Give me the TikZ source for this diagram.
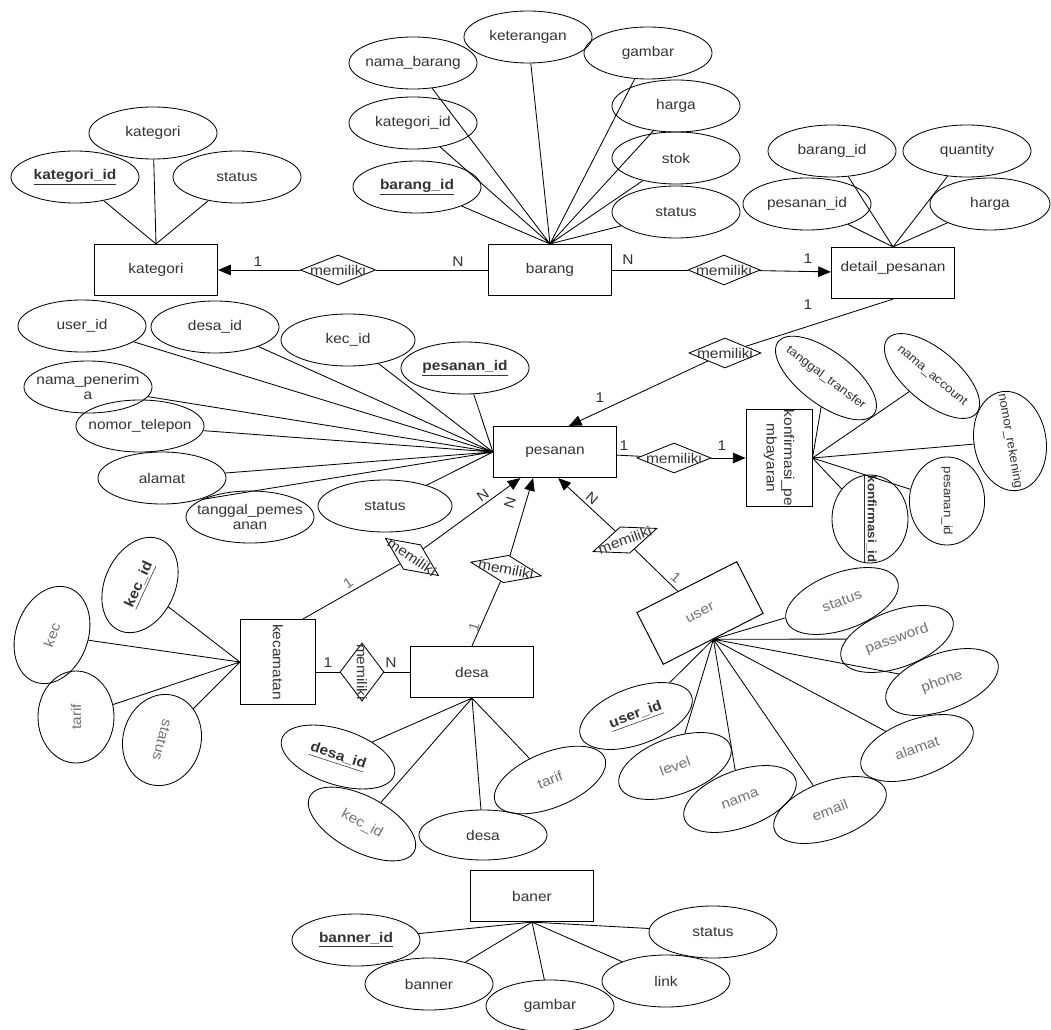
\documentclass[tikz,border=0pt]{standalone}
\usepackage{fontspec}
\setmainfont{Liberation Sans}[FakeStretch=1.1]
\usepackage{graphicx}
\usetikzlibrary{arrows.meta,shapes.geometric}

\newcommand{\pkey}[1]{\underline{\textbf{#1}}}

\begin{document}
\begin{tikzpicture}[
    x=0.025cm, y=-0.025cm,
    font=\fontsize{10}{11}\selectfont,
    zbox/.style={execute at begin node={\hbox to 0pt\bgroup\hss}, execute at end node={\hss\egroup}},
    ent/.style={draw, rectangle, line width=0.7pt, minimum width=3.08cm, minimum height=1.28cm,
                inner sep=0pt, text=black!80},
    att/.style={draw, ellipse, line width=0.6pt, minimum width=3.2cm, minimum height=1.3cm,
                inner sep=0pt, zbox, text=black!80},
    rel/.style={draw, diamond, line width=0.6pt, minimum width=1.8cm, minimum height=0.75cm,
                inner sep=0pt, zbox, text=black!80},
    soft/.style={text=black!55},
    small/.style={font=\fontsize{8.6}{10}\selectfont},
    card/.style={inner sep=1pt, text=black!80},
    ln/.style={line width=0.6pt},
    arr/.style={-{Triangle[length=9pt,width=7.5pt]}},
  ]
  \useasboundingbox[fill=white] (0,0) rectangle (1051,1030);

  % --- kategori ---
  \node[ent] (kategori)  at (156,270) {kategori};
  \node[att] (katnama)   at (153,133) {kategori};
  \node[att] (katid)     at (75,177)  {\pkey{kategori\_id}};
  \node[att] (katstatus) at (237,177) {status};

  % --- barang ---
  \node[ent] (barang)    at (550,270) {barang};
  \node[att] (brgnama)   at (413,63)  {nama\_barang};
  \node[att] (brgket)    at (528,37)  {keterangan};
  \node[att] (brggbr)    at (648,53)  {gambar};
  \node[att] (brgkat)    at (413,123) {kategori\_id};
  \node[att] (brgharga)  at (676,106) {harga};
  \node[att] (brgstok)   at (676,158) {stok};
  \node[att] (brgid)     at (417,187) {\pkey{barang\_id}};
  \node[att] (brgstatus) at (676,212) {status};

  % --- detail_pesanan ---
  \node[ent] (detail)    at (893,273) {\raisebox{9pt}{detail\_pesanan}};
  \node[att] (dtlbrg)    at (832,151) {barang\_id};
  \node[att] (dtlqty)    at (967,151) {quantity};
  \node[att] (dtlpes)    at (807,204) {pesanan\_id};
  \node[att, minimum width=3.0cm] (dtlharga) at (990,204) {harga};

  % --- pesanan ---
  \node[ent] (pesanan)   at (555,452) {pesanan};
  \node[att] (pesuser)   at (82,326)  {user\_id};
  \node[att] (pesdesa)   at (215,327) {desa\_id};
  \node[att, minimum width=3.35cm] (peskec) at (348,340) {kec\_id};
  \node[att] (pesid)     at (465,368) {\pkey{pesanan\_id}};
  \node[att] (pesnama)   at (88,387)  {\shortstack{nama\_penerim\\a}};
  \node[att] (pestelp)   at (140,426) {nomor\_telepon};
  \node[att] (pesalamat) at (162,478) {alamat};
  \node[att] (pestgl)    at (250,517) {\shortstack{tanggal\_pemes\\anan}};
  \node[att, minimum width=3.35cm] (pesstatus) at (385,506) {status};

  % --- konfirmasi_pembayaran ---
  \node[ent, minimum width=1.65cm, minimum height=2.12cm] (konf) at (779,458)
        {\rotatebox{-90}{\shortstack{konfirmasi\_pe\\mbayaran}}};
  \node[att, small, rotate=-37, minimum width=3.0cm, minimum height=1.32cm] (kontgl)  at (826,378) {tanggal\_transfer};
  \node[att, small, rotate=-40, minimum width=2.9cm, minimum height=1.32cm] (konnama) at (932,376) {nama\_account};
  \node[att, small, rotate=-80, minimum width=2.5cm, minimum height=1.8cm] (konrek)  at (1010,441) {nomor\_rekening};
  \node[att, small, rotate=-90, minimum width=2.2cm, minimum height=1.88cm] (konpes) at (947,501) {pesanan\_id};
  \node[att, small, rotate=-90, minimum width=2.2cm, minimum height=1.9cm] (konid)   at (870,519) {\pkey{konfirmasi\_id}};

  % --- kecamatan ---
  \node[ent, minimum width=1.88cm, minimum height=2.12cm] (kecamatan) at (278,662) {\rotatebox{-90}{kecamatan}};
  \node[att, rotate=65, minimum width=2.5cm, minimum height=1.75cm] (kecid) at (140,585) {\pkey{kec\_id}};
  \node[att, soft, rotate=70, minimum width=2.5cm, minimum height=1.8cm] (keckec) at (52,635) {kec};
  \node[att, soft, rotate=90, minimum width=2.3cm, minimum height=1.9cm] (kectarif) at (76,717) {tarif};
  \node[att, soft, rotate=-105, minimum width=2.3cm, minimum height=1.95cm] (kecstatus) at (162,740) {status};

  % --- desa ---
  \node[ent] (desa)      at (472,672) {desa};
  \node[att, rotate=-18, minimum width=2.95cm, minimum height=1.38cm] (dsaid) at (338,757) {\pkey{desa\_id}};
  \node[att, soft, rotate=-28, minimum width=2.95cm, minimum height=1.38cm] (dsakec) at (362,824) {kec\_id};
  \node[att, minimum height=1.25cm] (dsanama) at (483,835) {desa};
  \node[att, soft, rotate=22, minimum width=2.95cm, minimum height=1.38cm] (dsatarif) at (550,780) {tarif};

  % --- user ---
  \node[ent, soft, rotate=27, minimum width=2.8cm, minimum height=1.45cm] (user) at (700,613) {user};
  \node[att, soft, rotate=20, minimum width=2.95cm, minimum height=1.42cm] (usrstatus) at (842,601) {status};
  \node[att, soft, rotate=20, minimum width=2.95cm, minimum height=1.42cm] (usrpass)   at (897,639) {password};
  \node[att, soft, rotate=20, minimum width=2.95cm, minimum height=1.42cm] (usrphone)  at (942,682) {phone};
  \node[att, soft, rotate=20, minimum width=2.95cm, minimum height=1.42cm] (usralamat) at (917,748) {alamat};
  \node[att, soft, rotate=20, minimum width=2.95cm, minimum height=1.42cm] (usremail)  at (830,810) {email};
  \node[att, soft, rotate=20, minimum width=2.95cm, minimum height=1.42cm] (usrnama)   at (740,799) {nama};
  \node[att, soft, rotate=20, minimum width=2.95cm, minimum height=1.42cm] (usrlevel)  at (675,766) {level};
  \node[att, rotate=20, minimum width=2.95cm, minimum height=1.42cm] (usrid) at (636,716) {\pkey{user\_id}};

  % --- baner ---
  \node[ent] (baner)     at (532,896) {baner};
  \node[att] (bnid)      at (356,940) {\pkey{banner\_id}};
  \node[att] (bnbanner)  at (429,984) {banner};
  \node[att] (bngbr)     at (550,1006) {gambar};
  \node[att] (bnlink)    at (666,981) {link};
  \node[att] (bnstatus)  at (713,932) {status};

  % --- relationships ---
  \node[rel, minimum width=1.88cm] (relkb) at (338,270) {memiliki};
  \node[rel] (relbd) at (724,270) {memiliki};
  \node[rel] (reldp) at (725,353) {memiliki};
  \node[rel, minimum width=1.85cm] (relpk) at (674,458) {memiliki};
  \node[rel, rotate=-35, minimum width=1.62cm] (relkp) at (412,557) {memiliki};
  \node[rel, rotate=-11, minimum height=0.7cm] (reldsp) at (506,569) {memiliki};
  \node[rel, rotate=20, minimum width=1.7cm, minimum height=0.7cm] (relup) at (625,540) {memiliki};
  \node[rel, rotate=-90, minimum width=1.45cm, minimum height=1.1cm] (relkd) at (362,672) {memiliki};

  % --- attribute lines ---
  \draw[ln] (kategori.north) -- (katnama) (kategori.north) -- (katid) (kategori.north) -- (katstatus);
  \draw[ln] (barang.north) -- (brgnama) (barang.north) -- (brgket) (barang.north) -- (brggbr)
            (barang.north) -- (brgkat) (barang.north) -- (brgharga) (barang.north) -- (brgstok)
            (barang.north) -- (brgid) (barang.north) -- (brgstatus);
  \draw[ln] (detail.north) -- (dtlbrg) (detail.north) -- (dtlqty) (detail.north) -- (dtlpes)
            (detail.north) -- (dtlharga);
  \draw[ln] (pesanan.west) -- (pesuser) (pesanan.west) -- (pesdesa) (pesanan.west) -- (peskec)
            (pesanan.west) -- (pesid) (pesanan.west) -- (pesnama) (pesanan.west) -- (pestelp)
            (pesanan.west) -- (pesalamat) (pesanan.west) -- (pestgl.160) (pesanan.west) -- (pesstatus);
  \draw[ln] (konf.east) -- (kontgl) (konf.east) -- (konnama) (konf.east) -- (konrek)
            (konf.east) -- (konpes) (konf.east) -- (konid);
  \draw[ln] (kecamatan.west) -- (kecid) (kecamatan.west) -- (keckec) (kecamatan.west) -- (kectarif)
            (kecamatan.west) -- (kecstatus);
  \draw[ln] (desa.south) -- (dsaid) (desa.south) -- (dsakec) (desa.south) -- (dsanama)
            (desa.south) -- (dsatarif);
  \draw[ln] (user.south) -- (usrstatus) (user.south) -- (usrpass) (user.south) -- (usrphone)
            (user.south) -- (usralamat) (user.south) -- (usremail) (user.south) -- (usrnama)
            (user.south) -- (usrlevel) (user.south) -- (usrid);
  \draw[ln] (baner.south) -- (bnid) (baner.south) -- (bnbanner) (baner.south) -- (bngbr)
            (baner.south) -- (bnlink) (baner.south) -- (bnstatus);

  % --- relationship lines ---
  \draw[ln, arr] (relkb) -- (kategori);
  \draw[ln] (relkb) -- (barang);
  \draw[ln] (barang) -- (relbd);
  \draw[ln, arr] (relbd) -- (detail);
  \draw[ln] (detail.south) -- (reldp);
  \draw[ln, arr] (reldp) -- (pesanan.62);
  \draw[ln] (pesanan) -- (relpk);
  \draw[ln, arr] (relpk) -- (konf);
  \draw[ln] (kecamatan.60) -- (relkp);
  \draw[ln, arr] (relkp) -- (pesanan.217);
  \draw[ln] (desa.north) -- (reldsp);
  \draw[ln, arr] (reldsp) -- (pesanan.230);
  \draw[ln] (user) -- (relup);
  \draw[ln, arr] (relup) -- (pesanan.277);
  \draw[ln] (kecamatan.east |- relkd) -- (relkd);
  \draw[ln] (relkd) -- (desa.west |- relkd);

  % --- cardinalities ---
  \node[card] (c1)  at (258,262) {1};
  \node[card] (c2)  at (458,262) {N};
  \node[card] (c3)  at (628,260) {N};
  \node[card] (c4)  at (808,259) {1};
  \node[card] (c5)  at (808,305) {1};
  \node[card] (c6)  at (600,398) {1};
  \node[card] (c7)  at (624,446) {1};
  \node[card] (c8)  at (722,446) {1};
  \node[card, rotate=35] (c9)  at (483,495) {N};
  \node[card, rotate=72] (c10) at (510,503) {N};
  \node[card, rotate=-40] (c11) at (592,498) {N};
  \node[card, soft, rotate=35] (c12) at (348,583) {1};
  \node[card, soft, rotate=72] (c13) at (474,627) {1};
  \node[card, soft, rotate=-40] (c14) at (676,578) {1};
  \node[card] (c15) at (328,663) {1};
  \node[card] (c16) at (391,663) {N};
\end{tikzpicture}
\end{document}
